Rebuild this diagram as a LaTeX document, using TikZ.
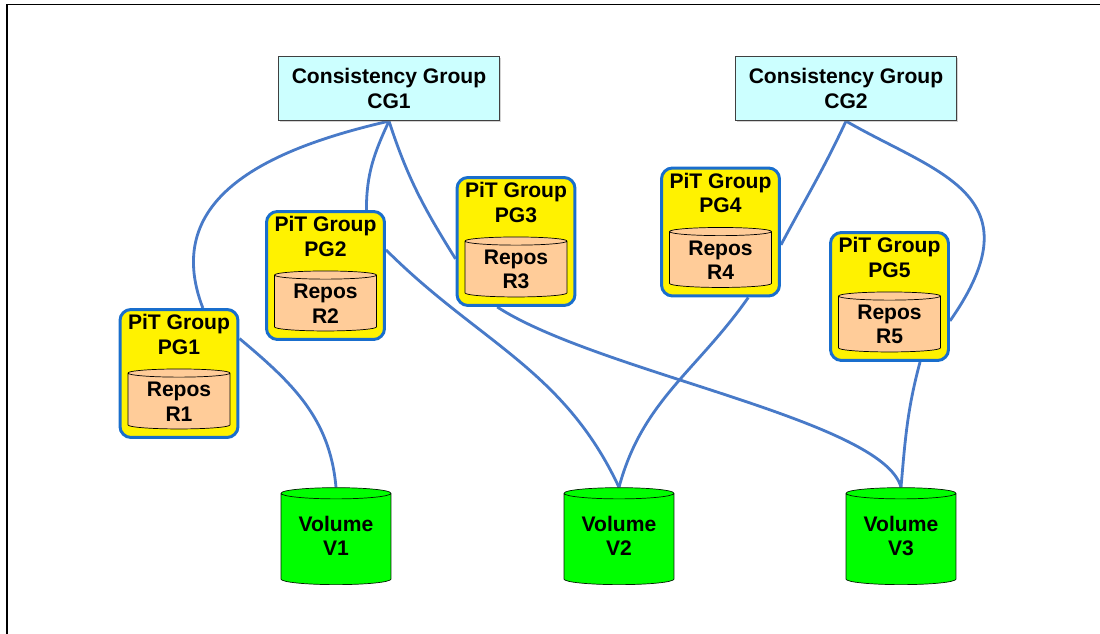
\documentclass[tikz,border=0pt]{standalone}
\usepackage{fontspec}
\setmainfont{Liberation Sans}
\usetikzlibrary{positioning,shapes.geometric,shadows,backgrounds}

\definecolor{cgfill}{RGB}{204,255,255}
\definecolor{pgborder}{RGB}{25,110,205}
\definecolor{reposfill}{RGB}{255,204,153}
\definecolor{volfill}{RGB}{0,255,0}
\definecolor{wireblue}{RGB}{72,122,200}

\tikzset{
  labelfont/.style={font=\fontsize{12}{13.8}\selectfont\bfseries},
  cgbox/.style={draw=black!75, fill=cgfill, line width=0.7pt, minimum width=4.42cm,
    minimum height=1.28cm, align=center, labelfont,
    drop shadow={opacity=0.35, shadow xshift=0.7pt, shadow yshift=-0.7pt}},
  pitbox/.style={draw=pgborder, fill=yellow, line width=1.7pt, rounded corners=0.22cm,
    minimum width=2.36cm, minimum height=2.56cm},
  pittitle/.style={align=center, inner sep=2.5pt, labelfont},
  repos/.style={cylinder, shape border rotate=90, aspect=0.12, draw, fill=reposfill,
    minimum width=2.04cm, minimum height=1.2cm, align=center, inner sep=1pt, labelfont},
  volume/.style={cylinder, shape border rotate=90, aspect=0.13, draw=black!70!green!40!black,
    fill=volfill, minimum width=2.2cm, minimum height=1.94cm, align=center, text depth=5pt,
    labelfont},
  wire/.style={draw=wireblue, line width=1.6pt}
}

\begin{document}
\begin{tikzpicture}[x=0.02cm, y=-0.02cm]
    \useasboundingbox (0,0) rectangle (1100,634);

    % page frame
    \draw[line width=0.9pt] (7,634) -- (7,4.5) -- (1100,4.5);

    % Consistency groups
    \node[cgbox] (cg1) at (389,88.5) {Consistency Group\\CG1};
    \node[cgbox] (cg2) at (846,88.5) {Consistency Group\\CG2};

    % PiT groups with their repositories
    \node[pitbox] (pg1) at (179,373.5) {};
    \node[pittitle, below=1pt of pg1.north] (pg1t) {PiT Group\\PG1};
    \node[repos, above=5.5pt of pg1.south] (r1) {Repos\\R1};

    \node[pitbox] (pg2) at (325.5,275.5) {};
    \node[pittitle, below=1pt of pg2.north] (pg2t) {PiT Group\\PG2};
    \node[repos, above=5.5pt of pg2.south] (r2) {Repos\\R2};

    \node[pitbox] (pg3) at (516,241.5) {};
    \node[pittitle, below=1pt of pg3.north] (pg3t) {PiT Group\\PG3};
    \node[repos, above=5.5pt of pg3.south] (r3) {Repos\\R3};

    \node[pitbox] (pg4) at (720.5,232) {};
    \node[pittitle, below=1pt of pg4.north] (pg4t) {PiT Group\\PG4};
    \node[repos, above=5.5pt of pg4.south] (r4) {Repos\\R4};

    \node[pitbox] (pg5) at (889.5,296.5) {};
    \node[pittitle, below=1pt of pg5.north] (pg5t) {PiT Group\\PG5};
    \node[repos, above=5.5pt of pg5.south] (r5) {Repos\\R5};

    % Volumes
    \node[volume, anchor=south] (v1) at (336,585) {Volume\\V1};
    \node[volume, anchor=south] (v2) at (619,585) {Volume\\V2};
    \node[volume, anchor=south] (v3) at (901,585) {Volume\\V3};

    % Links, kept behind the boxes
    \begin{scope}[on background layer]
        \draw[wire] (cg1.south) to[out=193, in=111, out distance=2.4cm, in distance=2.4cm] (pg1.70);
        \draw[wire] (cg1.south) to[out=-115, in=90] (pg2.58);
        \draw[wire] (cg1.south) to[out=-72, in=122] (pg3.196);
        \draw[wire] (cg2.south) to[out=-115, in=62] (pg4.-12);
        \draw[wire] (cg2.south) to[out=-30, in=55, out distance=2.1cm, in distance=3.1cm] (pg5.-22);

        \draw[wire] (pg1.30) to[out=-40, in=95] (v1.north);
        \draw[wire] (pg2.23) to[out=-45, in=115] (v2.north);
        \draw[wire] (pg4.-67) to[out=-125, in=75] (v2.north);
        \draw[wire] (pg3.-106) to[out=-33, in=105, out distance=2.4cm, in distance=1.4cm] (v3.north);
        \draw[wire] (pg5.-65) to[out=-105, in=85] (v3.north);
    \end{scope}
\end{tikzpicture}
\end{document}
